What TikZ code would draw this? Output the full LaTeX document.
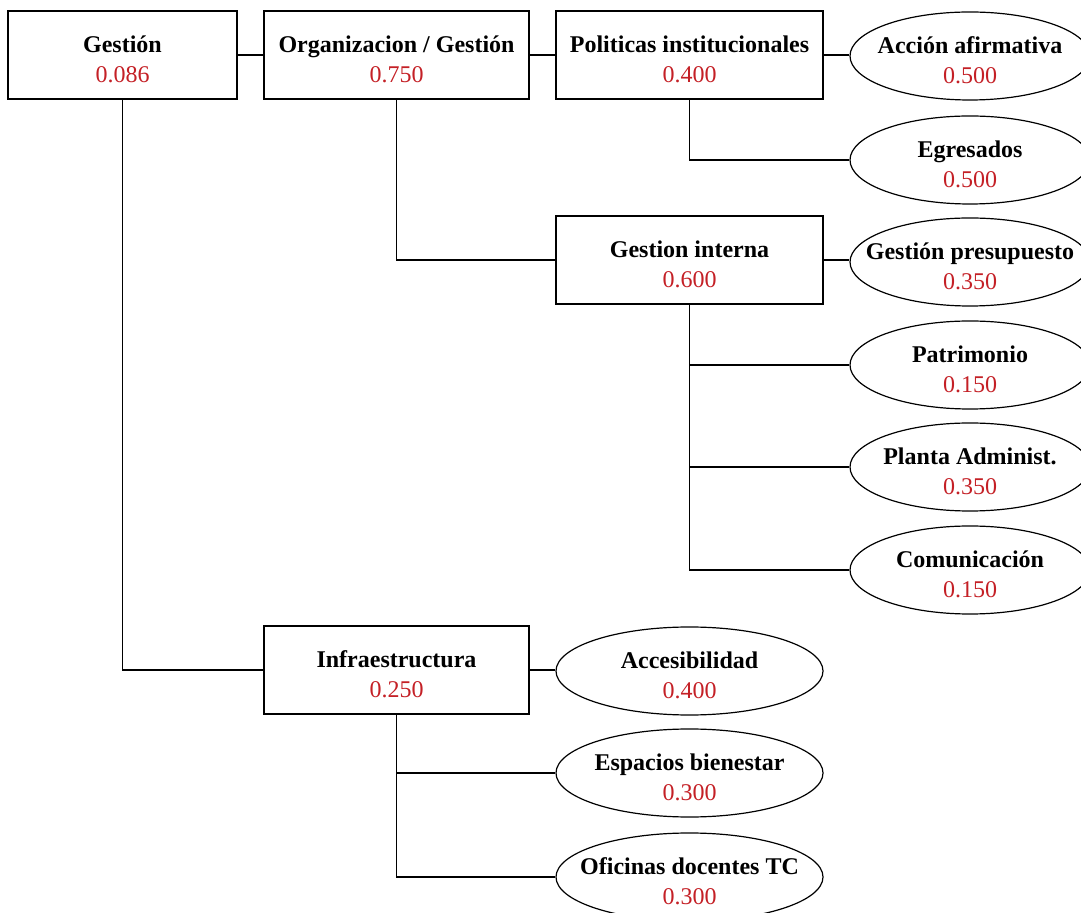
\documentclass[tikz,border=0pt]{standalone}
\usepackage{fontspec}
\setmainfont{Liberation Serif}
\usepackage{xcolor}
\usetikzlibrary{shapes.geometric}
\definecolor{valred}{RGB}{196,32,38}
\newcommand{\nodetext}[2]{\raisebox{-6.25pt}[0pt][0pt]{\makebox[0pt]{\begin{tabular}{@{}c@{}}\textbf{#1}\\\textcolor{valred}{#2}\end{tabular}}}}
\begin{document}
\begin{tikzpicture}[x=0.5pt, y=-0.5pt, line width=0.6pt,
    font=\fontsize{12}{15}\selectfont,
    crit/.style = {draw, rectangle, minimum width=132.5pt, minimum height=44pt, inner sep=0pt},
    leaf/.style = {draw, ellipse, minimum width=120pt, minimum height=44pt, inner sep=0pt}]
    \useasboundingbox (0,0) rectangle (1081,913);
    \node[crit, minimum width=114.5pt] (gestion) at (122.5,55) {\nodetext{Gestión}{0.086}};
    \node[crit] (org) at (396.5,55) {\nodetext{Organizacion / Gestión}{0.750}};
    \node[crit, minimum width=133.5pt] (pol) at (689.5,55) {\nodetext{Politicas institucionales}{0.400}};
    \node[crit, minimum width=133.5pt] (gint) at (689.5,260) {\nodetext{Gestion interna}{0.600}};
    \node[crit] (infra) at (396.5,670) {\nodetext{Infraestructura}{0.250}};
    \node[leaf] (accion) at (970,56) {\nodetext{Acción afirmativa}{0.500}};
    \node[leaf] (egres) at (970,160) {\nodetext{Egresados}{0.500}};
    \node[leaf] (presup) at (970,262) {\nodetext{Gestión presupuesto}{0.350}};
    \node[leaf] (patri) at (970,365) {\nodetext{Patrimonio}{0.150}};
    \node[leaf] (planta) at (970,467) {\nodetext{Planta Administ.}{0.350}};
    \node[leaf] (comun) at (970,570) {\nodetext{Comunicación}{0.150}};
    \node[leaf, minimum width=133.5pt] (acces) at (689.5,671) {\nodetext{Accesibilidad}{0.400}};
    \node[leaf, minimum width=133.5pt] (espacios) at (689.5,773) {\nodetext{Espacios bienestar}{0.300}};
    \node[leaf, minimum width=133.5pt] (ofic) at (689.5,877) {\nodetext{Oficinas docentes TC}{0.300}};
    \draw (gestion) -- (org);
    \draw (org) -- (pol);
    \draw (pol.east) -- (accion.west |- pol.east);
    \draw (pol.south) |- (egres.west);
    \draw (org.south) |- (gint.west);
    \draw (gint.east) -- (presup.west |- gint.east);
    \draw (gint.south) |- (patri.west);
    \draw (gint.south) |- (planta.west);
    \draw (gint.south) |- (comun.west);
    \draw (gestion.south) |- (infra.west);
    \draw (infra.east) -- (acces.west |- infra.east);
    \draw (infra.south) |- (espacios.west);
    \draw (infra.south) |- (ofic.west);
\end{tikzpicture}
\end{document}
